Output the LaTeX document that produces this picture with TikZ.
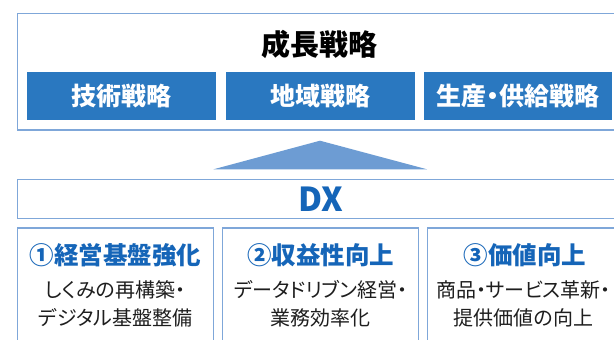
\documentclass[tikz,border=0pt]{standalone}
\usepackage{fontspec}
\setmainfont[RawFeature=+palt]{Noto Sans CJK JP}
\definecolor{framec}{HTML}{7FA7D9}
\definecolor{bluebox}{HTML}{2A78C0}
\definecolor{tric}{HTML}{6D9CD3}
\definecolor{headblue}{HTML}{1565B8}
\definecolor{bodytext}{HTML}{1E1E1E}
\begin{document}
\begin{tikzpicture}[x=1pt,y=-1pt,
  framebox/.style={draw=framec, line width=1.5pt, inner sep=0pt, minimum height=#1},
  stratbox/.style={fill=bluebox, text=white, inner sep=0pt, minimum height=48pt, minimum width=#1,
    font=\bfseries\fontsize{25}{30}\selectfont},
  titletext/.style={text=black, inner sep=0pt, font=\bfseries\fontsize{29}{34}\selectfont},
  dxtext/.style={text=headblue, inner sep=0pt, font=\bfseries\fontsize{33}{38}\selectfont},
  headtext/.style={text=headblue, inner sep=0pt, font=\bfseries\fontsize{24.5}{30}\selectfont},
  bodytxt/.style={text=bodytext, inner sep=0pt, align=center, font=\fontsize{20}{28}\selectfont}
]
\useasboundingbox (0,0) rectangle (614,340);
\clip (0,0) rectangle (614,340);
\fill[white] (0,0) rectangle (614,340);

% growth strategy frame
\node[framebox=116.7pt, minimum width=604.3pt] (outer) at (319.45,71.65) {};
\node[titletext] (title) at (319.5,44) {成長戦略};
\node[stratbox=189pt] (s1) at (121.5,96) {技術戦略};
\node[stratbox=189pt] (s2) at (320.5,96) {地域戦略};
\node[stratbox=188pt] (s3) at (518,96) {生産・供給戦略};

% upward triangle
\coordinate (triL) at (213.5,169.3);
\coordinate (triTop) at (320,140.7);
\coordinate (triR) at (427,169.3);
\fill[tric] (triL) -- (triTop) -- (triR) -- cycle;

% DX bar
\node[framebox=39pt, minimum width=604.3pt] (dx) at (319.5,198.8) {};
\node[dxtext] (dxlabel) at (320.5,199) {DX};

% three pillars
\node[framebox=131.7pt, minimum width=196pt] (p1) at (115.3,294) {};
\node[framebox=131.7pt, minimum width=195.6pt] (p2) at (320.5,294) {};
\node[framebox=131.7pt, minimum width=195.7pt] (p3) at (525.2,294) {};

\node[headtext] (h1) at (115.3,255) {①経営基盤強化};
\node[headtext] (h2) at (320.5,255) {②収益性向上};
\node[headtext] (h3) at (525.2,255) {③価値向上};

\node[bodytxt] (t1) at (115.3,304) {しくみの再構築・\\デジタル基盤整備};
\node[bodytxt] (t2) at (320.5,304) {データドリブン経営・\\業務効率化};
\node[bodytxt] (t3) at (523.5,304) {商品・サービス革新・\\提供価値の向上};
\end{tikzpicture}
\end{document}
